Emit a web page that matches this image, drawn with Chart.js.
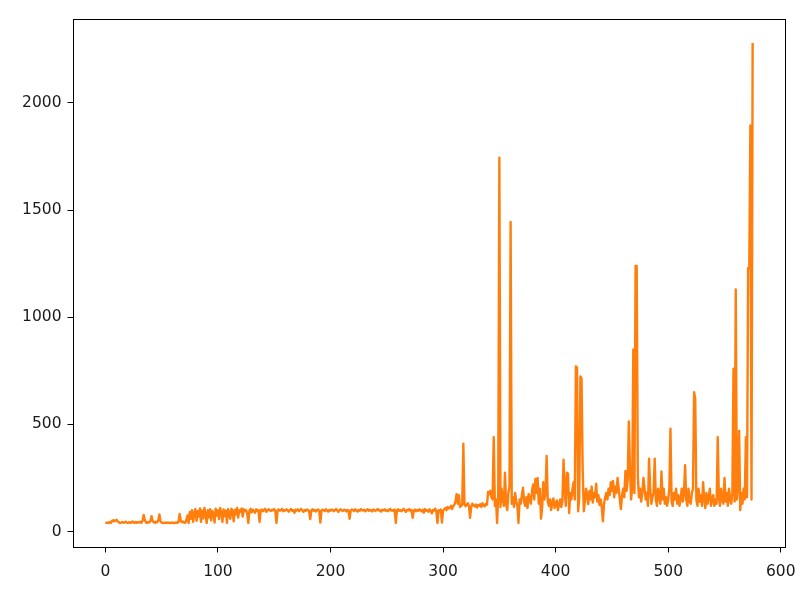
<!DOCTYPE html>
<html>
<head>
<meta charset="utf-8">
<script src="https://cdn.jsdelivr.net/npm/chart.js@4.4.1/dist/chart.umd.min.js"></script>
<style>
  html, body { margin: 0; padding: 0; background: #ffffff; }
  #wrap { width: 808px; height: 592px; }
</style>
</head>
<body>
<div id="wrap"><canvas id="c" width="808" height="592"></canvas></div>
<script>
// ---- data ----
const seriesPart1 = [ // index 0-199
  40,41,42,40,45,41,50,53,48,52,55,47,44,40,42,45,41,43,46,42,
  40,44,41,42,47,43,40,45,41,44,42,46,41,50,78,55,43,40,45,42,
  48,72,50,44,41,46,43,52,80,47,42,41,40,42,41,42,41,41,40,42,
  41,40,41,43,40,45,82,50,44,47,42,41,55,75,40,92,60,100,45,85,
  105,50,95,70,108,45,98,62,110,80,40,100,66,104,52,96,85,42,107,75,
  100,58,110,90,45,103,72,98,41,105,88,60,107,95,48,102,80,110,65,100,
  92,108,70,104,96,100,85,40,98,106,90,102,95,88,104,97,100,45,99,103,
  95,101,106,92,98,104,100,96,102,99,105,94,40,100,103,97,101,106,95,100,
  98,104,99,93,101,105,97,100,88,102,98,104,95,100,106,99,92,101,97,103,
  100,95,58,99,104,97,101,94,100,103,96,42,98,102,100,95,104,99,93,101
];
const seriesPart2 = [ // index 200-399
  97,103,100,95,101,105,98,92,100,104,99,96,102,100,94,101,98,60,99,103,
  100,96,104,99,93,101,97,105,100,98,102,95,100,104,97,101,99,94,103,100,
  96,101,105,98,100,93,102,99,104,97,100,95,101,106,98,100,96,103,40,99,
  104,97,101,95,100,106,98,92,102,99,105,96,100,64,98,103,95,101,97,104,
  99,94,102,88,105,97,100,92,104,96,85,101,98,107,95,40,100,94,103,42,
  97,105,110,100,115,108,112,120,105,118,125,140,175,130,170,115,120,125,410,128,
  118,125,132,120,64,115,130,122,118,126,112,124,120,128,115,132,122,118,130,125,
  185,175,190,160,150,440,120,150,40,170,1745,115,200,150,120,275,130,100,180,210,
  1445,130,160,115,180,140,120,40,150,130,170,205,140,120,160,110,175,150,130,190,
  220,150,245,180,250,130,200,60,110,230,150,180,353,140,120,150,100,135,155,110
];
const seriesPart3 = [ // index 400-575
  130,145,100,125,150,115,140,335,200,120,275,270,87,180,150,200,230,150,771,765,
  95,160,724,715,292,95,140,200,170,128,190,150,210,135,180,160,223,140,170,125,
  150,110,48,130,160,180,150,200,170,230,190,236,160,210,180,250,200,150,105,170,
  200,160,283,190,240,514,300,150,200,850,180,1240,1240,260,160,200,140,180,250,200,
  150,180,120,340,200,130,160,180,340,150,120,200,170,130,280,150,200,130,160,120,
  150,200,480,140,120,180,150,200,130,170,120,150,200,140,180,310,150,120,200,140,
  130,180,200,650,620,150,120,200,140,170,120,230,150,110,180,130,160,200,120,150,
  170,120,150,130,440,160,120,200,150,130,250,140,180,120,200,150,130,180,760,140,
  1130,150,200,470,100,180,130,200,150,440,160,1230,1230,1895,150,2280
];
const xTickValues = [0, 100, 200, 300, 400, 500, 600];
const yTickValues = [0, 500, 1000, 1500, 2000];

// ---- build ----
const values = [...seriesPart1, ...seriesPart2, ...seriesPart3];
const points = values.map((v, i) => ({ x: i, y: v }));

const xMinD = 0, xMaxD = values.length - 1;
const yMinD = Math.min(...values), yMaxD = Math.max(...values);
const xm = (xMaxD - xMinD) * 0.05, ym = (yMaxD - yMinD) * 0.05;

const FONT = { family: "'DejaVu Sans', sans-serif", size: 15.5 };

const boxPlugin = {
  id: 'box',
  afterDraw(chart) {
    const { ctx, chartArea: a } = chart;
    ctx.save();
    ctx.strokeStyle = '#000';
    ctx.lineWidth = 1;
    ctx.strokeRect(Math.round(a.left) + 0.5, Math.round(a.top) + 0.5,
                   Math.round(a.right - a.left), Math.round(a.bottom - a.top));
    ctx.restore();
  }
};

new Chart(document.getElementById('c'), {
  type: 'line',
  data: {
    datasets: [{
      data: points,
      borderColor: '#ff7f0e',
      borderWidth: 2.4,
      pointRadius: 0,
      tension: 0,
      borderJoinStyle: 'round',
      fill: false
    }]
  },
  options: {
    responsive: false,
    animation: false,
    devicePixelRatio: 1,
    layout: { padding: { left: 0, right: 23, top: 19, bottom: 0 } },
    plugins: { legend: { display: false }, tooltip: { enabled: false } },
    scales: {
      x: {
        type: 'linear',
        min: xMinD - xm,
        max: xMaxD + xm,
        afterBuildTicks(s) { s.ticks = xTickValues.map(v => ({ value: v })); },
        afterFit(s) { s.height = 45; },
        ticks: { color: '#1a1a1a', font: FONT, padding: 10, maxRotation: 0, callback: v => String(v) },
        grid: { drawOnChartArea: false, drawTicks: true, tickLength: 5.5, color: '#000', lineWidth: 1 },
        border: { display: true, color: '#000', width: 1 }
      },
      y: {
        type: 'linear',
        min: yMinD - ym,
        max: yMaxD + ym,
        afterBuildTicks(s) { s.ticks = yTickValues.map(v => ({ value: v })); },
        afterFit(s) { s.width = 73; },
        ticks: { color: '#1a1a1a', font: FONT, padding: 6, callback: v => String(v) },
        grid: { drawOnChartArea: false, drawTicks: true, tickLength: 5.5, color: '#000', lineWidth: 1 },
        border: { display: true, color: '#000', width: 1 }
      }
    }
  },
  plugins: [boxPlugin]
});
</script>
</body>
</html>
